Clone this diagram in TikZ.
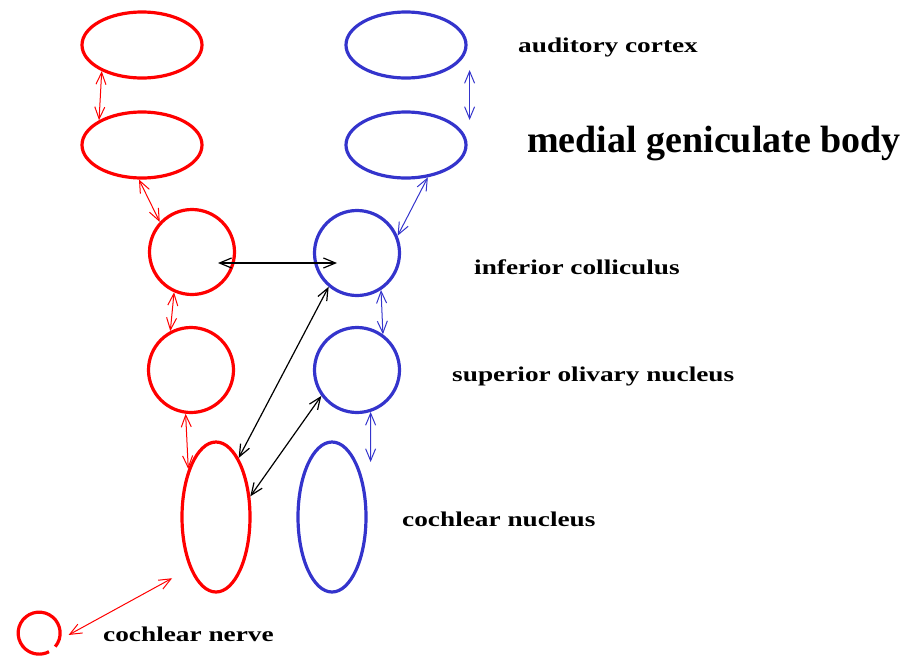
\documentclass[tikz,border=0pt]{standalone}
\usepackage{fontspec}
\setmainfont{Liberation Serif}
\newfontfamily\labfont[FakeStretch=1.3]{Liberation Serif}
\usetikzlibrary{shapes.geometric,arrows.meta}
\definecolor{kernrot}{RGB}{255,0,0}
\definecolor{kernblau}{RGB}{52,52,204}
\begin{document}
\begin{tikzpicture}[x=1pt, y=-1pt, >={Straight Barb[length=12pt,width=10pt]},
  kern/.style={draw, ellipse, line width=3.2pt, inner sep=0pt, minimum width=120pt, minimum height=66pt},
  rund/.style={draw, circle, line width=3.2pt, inner sep=0pt, minimum size=85pt},
  lang/.style={draw, ellipse, line width=3.2pt, inner sep=0pt, minimum width=68pt, minimum height=150pt},
  bahn/.style={<->, line width=1pt},
  quer/.style={<->, line width=1.2pt, black},
  lab/.style={anchor=base west, inner sep=0pt, font=\labfont\bfseries\fontsize{21}{23}\selectfont}]
   \useasboundingbox (0,0) rectangle (910,656);

%Kerne links
\node[kern, kernrot] (rAC) at (142,45) {};
\node[kern, kernrot] (rMG) at (142,145) {};
\node[rund, kernrot] (rIC) at (192,252) {};
\node[rund, kernrot] (rSO) at (191,370) {};
\node[lang, kernrot] (rCN) at (216,517) {};
\node[circle, inner sep=0pt, minimum size=42pt] (nrv) at (39,633) {};
\draw[kernrot, line width=3.2pt] (nrv.-40) arc[start angle=-40, end angle=298, radius=21pt];

%Kerne rechts
\node[kern, kernblau] (bAC) at (406,45) {};
\node[kern, kernblau] (bMG) at (406,145) {};
\node[rund, kernblau] (bIC) at (357,253) {};
\node[rund, kernblau] (bSO) at (357,370) {};
\node[lang, kernblau] (bCN) at (332,517) {};

%Bahnen
\draw[bahn, kernrot] (rAC.213) -- (rMG.150);
\draw[bahn, kernrot] (rMG.265) -- (rIC.137);
\draw[bahn, kernrot] (rIC.246) -- (rSO.118);
\draw[bahn, kernrot] (rSO.263) -- (rCN.120);
\draw[bahn, kernrot, shorten <=11pt, shorten >=20pt] (nrv.-20) -- (rCN.243);
\draw[bahn, kernblau] ([shift={(2pt,-25pt)}]bAC.east) -- ([shift={(2pt,25pt)}]bMG.east);
\draw[bahn, kernblau] (bMG.-56) -- (bIC.23);
\draw[bahn, kernblau] (bIC.-57) -- (bSO.54);
\draw[bahn, kernblau] (bSO.-72) -- ([shift={(3pt,55pt)}]bCN.east);
\draw[quer] ([shift={(26pt,-11pt)}]rIC.center) -- ([shift={(-20pt,-10pt)}]bIC.center);
\draw[quer] (rCN.69) -- (bIC.230);
\draw[quer] (rCN.31) -- (bSO.216);

%Beschriftung
\node[lab] (tAC) at (518,52) {auditory cortex};
\node[anchor=base west, inner sep=0pt, font=\bfseries\fontsize{38}{40}\selectfont] (tMG) at (527,152) {medial geniculate body};
\node[lab] (tIC) at (474,274) {inferior colliculus};
\node[lab] (tSO) at (452,381) {superior olivary nucleus};
\node[lab] (tCN) at (402,526) {cochlear nucleus};
\node[lab] (tNV) at (103,641) {cochlear nerve};
\end{tikzpicture}
\end{document}
